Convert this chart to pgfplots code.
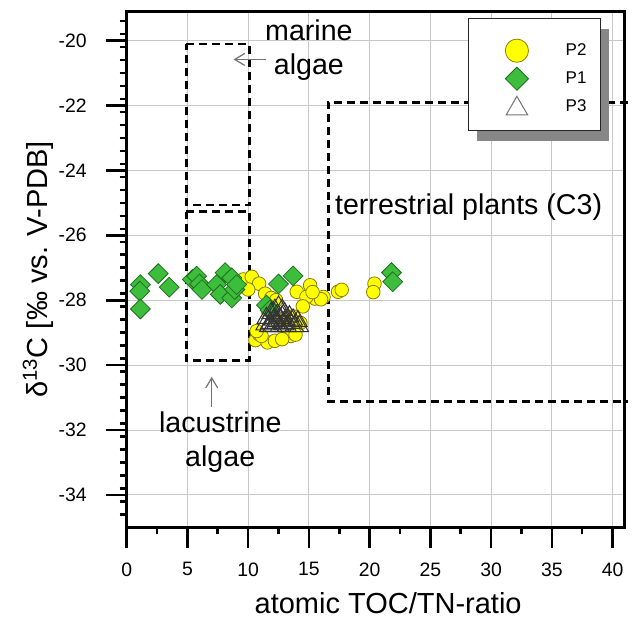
\documentclass[border=0pt]{standalone}
\usepackage{fontspec}
\setmainfont{Liberation Sans}
\usepackage{pgfplots}
\pgfplotsset{compat=1.18}
\usetikzlibrary{arrows.meta, shadows}
\definecolor{pTwoFill}{RGB}{255,255,0}
\definecolor{pTwoEdge}{RGB}{140,125,0}
\definecolor{pOneFill}{RGB}{60,190,60}
\definecolor{pOneEdge}{RGB}{30,110,30}
\definecolor{gridgray}{RGB}{200,200,200}
\definecolor{shadowgray}{RGB}{135,135,135}

% legend images: fixed-width cells, marker at x=10pt
\pgfplotsset{
  leg circ/.style={legend image code/.code={%
    \pgfpathrectangle{\pgfpoint{-7pt}{-7pt}}{\pgfpoint{27pt}{16pt}}\pgfusepath{use as bounding box}%
    \draw[##1, mark size=5.8pt] plot coordinates {(10pt,0pt)};}},
  leg diam/.style={legend image code/.code={%
    \pgfpathrectangle{\pgfpoint{-7pt}{-7pt}}{\pgfpoint{27pt}{14pt}}\pgfusepath{use as bounding box}%
    \draw[##1, mark size=4.1pt] plot coordinates {(10pt,0pt)};}},
  leg tri/.style={legend image code/.code={%
    \pgfpathrectangle{\pgfpoint{-7pt}{-5pt}}{\pgfpoint{27pt}{12pt}}\pgfusepath{use as bounding box}%
    \draw[##1, mark size=6.2pt, mark options={draw=black!55, fill=white}] plot coordinates {(10pt,-1pt)};}},
}

\begin{document}
\begin{tikzpicture}
\begin{axis}[
  name=ax,
  scale only axis,
  width=249pt, height=258pt,
  xmin=0, xmax=41, ymin=-35, ymax=-19.1,
  xtick={0,5,...,40}, ytick={-34,-32,...,-20},
  minor xtick={2.5,7.5,...,37.5},
  minor ytick={-34.6,-34.2,...,-19.1},
  xtick pos=bottom, ytick pos=left,
  tick align=outside,
  major tick length=10.5pt, minor tick length=3.5pt,
  every tick/.style={black, line width=1.3pt},
  axis line style={line width=1.3pt},
  grid=major, major grid style={gridgray, line width=0.5pt},
  /pgf/number format/assume math mode=true,
  ticklabel style={font=\fontsize{9.7}{11}\selectfont},
  xticklabel style={yshift=-3.5pt},
  yticklabel style={xshift=-6pt},
  xlabel={atomic TOC/TN-ratio},
  ylabel={δ\textsuperscript{13}C [‰ vs. V-PDB]},
  label style={font=\fontsize{14.5}{17}\selectfont},
  xlabel style={at={(axis description cs:0.525,-0.1466)}, anchor=center},
  ylabel style={at={(axis description cs:-0.178,0.5)}, anchor=center},
  clip=false,
  legend style={at={(axis description cs:0.9524,0.9868)}, anchor=north east,
    draw=black!85, line width=0.5pt, fill=white,
    inner xsep=7pt, inner ysep=7pt, row sep=0pt,
    font=\fontsize{8.5}{10}\selectfont,
    nodes={inner sep=0pt},
    /tikz/every odd column/.append style={column sep=14.4pt},
    drop shadow={shadow xshift=4.15pt, shadow yshift=-5pt, fill=shadowgray, opacity=1}},
  legend cell align=left,
]

% reference zones
\addplot[black, line width=1.3pt, dash pattern=on 4pt off 2.5pt, forget plot]
  coordinates {(4.9,-20.11) (10.1,-20.11) (10.1,-25.07) (4.9,-25.07) (4.9,-20.11)};
\addplot[black, line width=1.3pt, dash pattern=on 4pt off 2.5pt, forget plot]
  coordinates {(4.9,-25.27) (10.1,-25.27) (10.1,-29.85) (4.9,-29.85) (4.9,-25.27)};
\addplot[black, line width=1.3pt, dash pattern=on 4pt off 2.5pt, forget plot]
  coordinates {(41.3,-21.9) (16.6,-21.9) (16.6,-31.13) (41.3,-31.13)};

% P2
\addplot[only marks, mark=*, mark size=3.4pt,
  mark options={fill=pTwoFill, draw=pTwoEdge, line width=0.4pt}, leg circ]
  coordinates {
  (9.6,-27.36) (10.3,-27.28) (10.9,-27.49) (10.0,-27.67) (11.4,-27.8)
  (11.9,-27.93) (12.3,-28.0) (14.0,-27.74) (15.1,-27.54) (15.5,-27.95)
  (16.2,-27.9) (16.0,-27.97) (17.4,-27.74) (17.7,-27.68) (20.4,-27.49)
  (20.3,-27.75) (14.8,-27.9) (15.3,-27.75) (14.5,-28.19) (13.7,-28.5)
  (11.6,-28.3) (12.9,-28.6) (14.3,-28.7) (10.6,-29.23) (10.9,-29.05)
  (11.6,-29.3) (12.2,-29.25) (11.1,-29.1) (13.5,-29.1) (13.9,-29.06)
  (12.8,-29.2) (10.7,-28.95)
  };
\addlegendentry{P2}

% P1
\addplot[only marks, mark=square*, mark size=3.5pt,
  mark options={rotate=45, fill=pOneFill, draw=pOneEdge, line width=0.4pt}, leg diam]
  coordinates {
  (1.13,-27.52) (1.08,-27.72) (1.13,-28.27) (2.6,-27.18) (3.5,-27.6)
  (5.4,-27.36) (5.76,-27.26) (6.0,-27.5) (6.2,-27.67) (7.4,-27.52)
  (7.7,-27.82) (8.1,-27.15) (8.65,-27.31) (8.65,-27.93) (8.9,-27.67)
  (9.05,-27.52) (12.5,-27.5) (13.7,-27.25) (11.5,-28.15) (11.8,-28.3)
  (21.8,-27.15) (21.9,-27.43)
  };
\addlegendentry{P1}

% P3
\addplot[only marks, mark=triangle, mark size=5.4pt,
  mark options={draw=black!80, fill=none, line width=0.5pt}, leg tri]
  coordinates {
  (12.5,-28.2) (12.2,-28.3) (12.8,-28.3) (11.9,-28.4) (12.4,-28.45)
  (13.0,-28.4) (13.4,-28.5) (11.5,-28.55) (12.1,-28.6) (12.6,-28.55)
  (13.1,-28.6) (13.7,-28.6) (11.8,-28.7) (12.3,-28.7) (12.9,-28.7)
  (13.5,-28.7) (14.1,-28.65) (11.4,-28.75) (12.0,-28.8) (12.6,-28.8)
  (13.2,-28.8) (13.8,-28.8) (12.4,-28.65) (13.0,-28.75) (11.7,-28.8)
  (14.2,-28.8) (12.8,-28.5)
  };
\addlegendentry{P3}

% annotations
\node[font=\fontsize{14.3}{16.8}\selectfont, align=center] at (axis cs:15.0,-20.29)
  {marine\\algae};
\draw[black!55, line width=0.6pt, -{Straight Barb[length=5pt, width=6pt]}]
  (axis cs:11.5,-20.58) -- (axis cs:8.8,-20.58);
\node[font=\fontsize{14.3}{16.8}\selectfont, align=center] at (axis cs:7.7,-32.38)
  {lacustrine\\algae};
\draw[black!55, line width=0.6pt, -{Straight Barb[length=5pt, width=6pt]}]
  (axis cs:7.0,-31.28) -- (axis cs:7.0,-30.36);
\node[font=\fontsize{14.3}{16.8}\selectfont] at (axis cs:28.15,-25.13)
  {terrestrial plants (C3)};
\end{axis}
\pgfresetboundingbox
\path[use as bounding box] (ax.south west) ++(-63.35pt,-45.8pt) rectangle ++(316.5pt,309.5pt);
\end{tikzpicture}
\end{document}
